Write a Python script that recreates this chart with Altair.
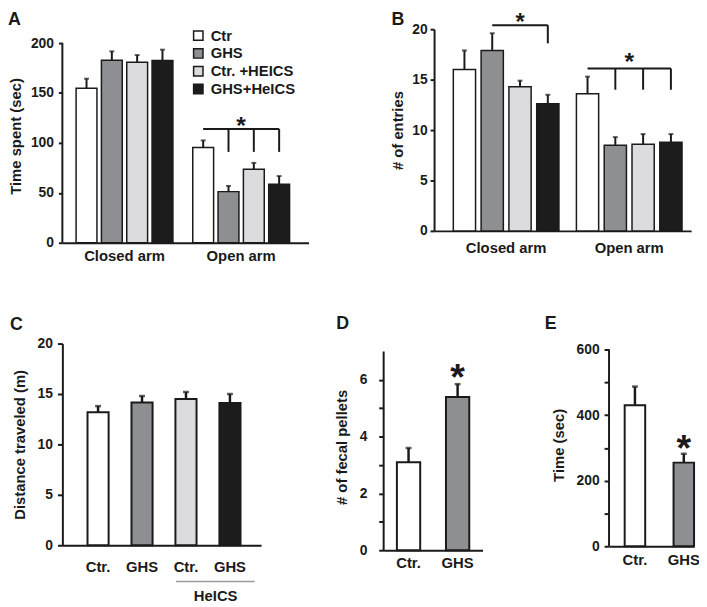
import altair as alt
import pandas as pd

FONT = "Liberation Sans"
INK = "#1a1a1a"

groups = ["Ctr", "GHS", "Ctr. +HEICS", "GHS+HeICS"]
arms = ["Closed arm", "Open arm"]
fills = ["#ffffff", "#8e8f92", "#dcdcde", "#1c1c1c"]

# Panel A: time spent (sec)
a_closed = [154.7, 182.8, 180.8, 182.5]
a_closed_sem = [9.6, 8.9, 7.2, 10.9]
a_open = [95.5, 51.2, 73.7, 58.5]
a_open_sem = [7.0, 5.7, 6.3, 8.3]
a_bracket = [114.0, 91.0]
a_star = 122.3

# Panel B: number of entries
b_closed = [16.0, 17.9, 14.3, 12.6]
b_closed_sem = [1.9, 1.7, 0.6, 0.9]
b_open = [13.6, 8.5, 8.6, 8.8]
b_open_sem = [1.7, 0.8, 1.0, 0.8]
b_closed_bracket = [20.4, 18.6]
b_closed_star = 21.2
b_open_bracket = [16.1, 14.0]
b_open_star = 17.3

# Panel C: distance traveled (m)
c_vals = [13.2, 14.15, 14.5, 14.1]
c_sem = [0.6, 0.65, 0.7, 0.9]
c_group_label = "HeICS"
c_group_line = -3.6
c_group_text = -5.0

# Panel D: fecal pellets
d_groups = ["Ctr.", "GHS"]
d_vals = [3.1, 5.4]
d_sem = [0.5, 0.45]
d_star = 6.36

# Panel E: time (sec)
e_groups = ["Ctr.", "GHS"]
e_vals = [430, 255]
e_sem = [57, 27]
e_star = 324


def arm_table(closed, closed_sem, open_, open_sem):
    rows = []
    for arm, vals, sems in ((arms[0], closed, closed_sem), (arms[1], open_, open_sem)):
        for g, v, s in zip(groups, vals, sems):
            rows.append({"arm": arm, "grp": g, "val": v, "hi": v + s})
    return pd.DataFrame(rows)


def panel_letter(text, x, y):
    return alt.Chart(pd.DataFrame({"t": [text]})).mark_text(
        fontSize=18, fontWeight="bold", font=FONT, color=INK, align="left", baseline="alphabetic"
    ).encode(text="t:N", x=alt.value(x), y=alt.value(y))


def axis_line(Y, top):
    # y-axis line drawn only up to the last labelled value
    return alt.Chart(pd.DataFrame({"lo": [0], "hi": [top]})).mark_rule(
        color=INK, strokeWidth=2).encode(x=alt.value(0), y=Y("lo"), y2="hi:Q")


def grouped_panel(table, ydom, yticks, ytitle, width, height, xpad, opad, yaxis_opts, xlab_pad,
                  legend, lines, drops, stars_center, stars_bar, letter, draw_axis_to=None):
    def X():
        return alt.X("arm:N", title=None, scale=alt.Scale(domain=arms, **xpad),
                     axis=alt.Axis(labelAngle=0, ticks=False, labelFontSize=15, labelPadding=xlab_pad))

    def XO():
        return alt.XOffset("grp:N", scale=alt.Scale(domain=groups, **opad))

    def Y(f):
        opts = dict(yaxis_opts)
        if draw_axis_to is not None:
            opts["domain"] = False
        return alt.Y(f, type="quantitative", title=ytitle, scale=alt.Scale(domain=ydom, nice=False),
                     axis=alt.Axis(values=yticks, **opts))

    base = alt.Chart(table)
    bars = base.mark_bar(stroke=INK, strokeWidth=1.5).encode(
        x=X(), xOffset=XO(), y=Y("val"),
        fill=alt.Fill("grp:N", scale=alt.Scale(domain=groups, range=fills), legend=legend))
    err = base.mark_rule(color=INK, strokeWidth=2).encode(x=X(), xOffset=XO(), y=Y("val"), y2="hi:Q")
    cap = base.mark_tick(color=INK, thickness=2, size=5).encode(x=X(), xOffset=XO(), y=Y("hi"))
    layers = [bars, err, cap]
    line = alt.Chart(pd.DataFrame(lines)).mark_line(color=INK, strokeWidth=2).encode(
        x=X(), xOffset=XO(), y=Y("y"), detail="id:N")
    drop = alt.Chart(pd.DataFrame(drops)).mark_rule(color=INK, strokeWidth=2).encode(
        x=X(), xOffset=XO(), y=Y("y"), y2="y2:Q")
    layers += [line, drop]
    if stars_center:
        layers.append(alt.Chart(pd.DataFrame(stars_center)).mark_text(
            text="*", fontSize=25, fontWeight="bold", font=FONT, color=INK, baseline="alphabetic", dy=14
        ).encode(x=X(), y=Y("y")))
    if stars_bar:
        layers.append(alt.Chart(pd.DataFrame(stars_bar)).mark_text(
            text="*", fontSize=24, fontWeight="bold", font=FONT, color=INK, baseline="alphabetic", dy=13.4
        ).encode(x=X(), xOffset=XO(), y=Y("y")))
    if draw_axis_to is not None:
        layers.append(axis_line(Y, draw_axis_to))
    layers.append(letter)
    return alt.layer(*layers).properties(width=width, height=height)


def simple_panel(cats, vals, sems, colors, ydom, yticks, ytitle, width, height, xpad, yaxis_opts,
                 xlab_pad, label_expr, star, star_cat, letter, extra=None, draw_axis_to=None):
    table = pd.DataFrame({"grp": cats, "val": vals, "hi": [v + s for v, s in zip(vals, sems)]})
    axis_x = dict(labelAngle=0, ticks=False, labelFontSize=15, labelPadding=xlab_pad)
    if label_expr:
        axis_x["labelExpr"] = label_expr

    def X():
        return alt.X("grp:N", title=None, scale=alt.Scale(domain=cats, **xpad), axis=alt.Axis(**axis_x))

    def Y(f):
        opts = dict(yaxis_opts)
        if draw_axis_to is not None:
            opts["domain"] = False
        return alt.Y(f, type="quantitative", title=ytitle, scale=alt.Scale(domain=ydom, nice=False),
                     axis=alt.Axis(values=yticks, **opts))

    base = alt.Chart(table)
    bars = base.mark_bar(stroke=INK, strokeWidth=2).encode(
        x=X(), y=Y("val"), fill=alt.Fill("grp:N", scale=alt.Scale(domain=cats, range=colors), legend=None))
    err = base.mark_rule(color=INK, strokeWidth=2.5).encode(x=X(), y=Y("val"), y2="hi:Q")
    cap = base.mark_tick(color=INK, thickness=2.5, size=6).encode(x=X(), y=Y("hi"))
    layers = [bars, err, cap]
    if star is not None:
        layers.append(alt.Chart(pd.DataFrame({"grp": [star_cat], "y": [star]})).mark_text(
            text="*", fontSize=38, fontWeight="bold", font=FONT, color=INK, baseline="alphabetic", dy=21
        ).encode(x=X(), y=Y("y")))
    if extra is not None:
        layers += extra(X, Y)
    if draw_axis_to is not None:
        layers.append(axis_line(Y, draw_axis_to))
    layers.append(letter)
    return alt.layer(*layers).properties(width=width, height=height)


legendA = alt.Legend(title=None, orient="none", legendX=130, legendY=-1, symbolType="square",
                     symbolSize=90, symbolStrokeColor=INK, symbolStrokeWidth=1.5, labelFontSize=15,
                     labelFontWeight="bold", labelFont=FONT, labelColor=INK, rowPadding=1,
                     labelOffset=5, padding=0)

# A: plot area 202 px for 0-200, extended 14 px upward to line up with B
panelA = grouped_panel(
    arm_table(a_closed, a_closed_sem, a_open, a_open_sem), [0, 200 * 216 / 202], [0, 50, 100, 150, 200],
    "Time spent (sec)", 249, 216,
    dict(paddingInner=0.17, paddingOuter=0.14, align=0.42), dict(paddingInner=0.176, paddingOuter=0),
    dict(labelPadding=5, titlePadding=7), 6, legendA,
    [{"arm": arms[1], "grp": groups[0], "y": a_bracket[0], "id": 1},
     {"arm": arms[1], "grp": groups[3], "y": a_bracket[0], "id": 1}],
    [{"arm": arms[1], "grp": g, "y": a_bracket[0], "y2": a_bracket[1]} for g in groups[1:]],
    [{"arm": arms[1], "y": a_star}], None,
    panel_letter("A", -55, -4), draw_axis_to=200)

panelB = grouped_panel(
    arm_table(b_closed, b_closed_sem, b_open, b_open_sem), [0, 20], [0, 5, 10, 15, 20],
    "# of entries", 260, 204,
    dict(paddingInner=0.142, paddingOuter=0.115, align=0.68), dict(paddingInner=0.2, paddingOuter=0),
    dict(labelPadding=3, titlePadding=6), 10, None,
    [{"arm": arms[0], "grp": groups[1], "y": b_closed_bracket[0], "id": 1},
     {"arm": arms[0], "grp": groups[3], "y": b_closed_bracket[0], "id": 1},
     {"arm": arms[1], "grp": groups[0], "y": b_open_bracket[0], "id": 2},
     {"arm": arms[1], "grp": groups[3], "y": b_open_bracket[0], "id": 2}],
    [{"arm": arms[0], "grp": groups[3], "y": b_closed_bracket[0], "y2": b_closed_bracket[1]}]
    + [{"arm": arms[1], "grp": g, "y": b_open_bracket[0], "y2": b_open_bracket[1]} for g in groups[1:]],
    [{"arm": arms[1], "y": b_open_star}],
    [{"arm": arms[0], "grp": groups[2], "y": b_closed_star}],
    panel_letter("B", -43, -4))


def heics(X, Y):
    line = alt.Chart(pd.DataFrame({"grp": [groups[2]], "g2": [groups[3]], "y": [c_group_line]})).mark_rule(
        color="#9a9a9a", strokeWidth=1.5, xOffset=-10, x2Offset=25).encode(x=X(), x2="g2:N", y=Y("y"))
    txt = alt.Chart(pd.DataFrame({"grp": [groups[2]], "y": [c_group_text],
                                  "t": [c_group_label]})).mark_text(
        fontSize=15, fontWeight="bold", font=FONT, color=INK, baseline="middle", align="center", dx=30
    ).encode(x=X(), y=Y("y"), text="t:N")
    return [line, txt]


panelC = simple_panel(
    groups, c_vals, c_sem, fills, [0, 20], [0, 5, 10, 15, 20], "Distance traveled (m)", 201, 204,
    dict(paddingInner=0.52, paddingOuter=0.52, align=0.55), dict(labelPadding=5, titlePadding=10, tickSize=5),
    15, "indexof(datum.label, 'Ctr') == 0 ? 'Ctr.' : 'GHS'", None, None, panel_letter("C", -53, -14),
    extra=heics)

# D: 201 px for 0-7, extended 8 px upward to line up with C
panelD = simple_panel(
    d_groups, d_vals, d_sem, fills[:2], [0, 7 * 209 / 201], [0, 1, 2, 3, 4, 5, 6], "# of fecal pellets",
    100, 209,
    dict(paddingInner=0.525, paddingOuter=0.27, align=0.5),
    dict(labelPadding=12, titlePadding=10, tickSize=5, labelExpr="datum.value % 2 == 0 ? datum.label : ''"),
    6, None, d_star, "GHS", panel_letter("D", -48, -15), draw_axis_to=7)

# E: 199 px for 0-600, extended 6 px upward to line up with C
panelE = simple_panel(
    e_groups, e_vals, e_sem, fills[:2], [0, 600 * 205 / 199], [0, 100, 200, 300, 400, 500, 600],
    "Time (sec)", 86, 205,
    dict(paddingInner=0.58, paddingOuter=0.16, align=1.0),
    dict(labelPadding=5, titlePadding=10, tickSize=5, labelExpr="datum.value % 200 == 0 ? datum.label : ''"),
    6, None, e_star, "GHS", panel_letter("E", -65, -15), draw_axis_to=600)

top = alt.hconcat(panelA, panelB, spacing=83).resolve_scale(
    fill="independent", xOffset="independent", x="independent", y="independent")
de = alt.hconcat(panelD, panelE, spacing=63).resolve_scale(
    fill="independent", x="independent", y="independent")
bottom = alt.hconcat(panelC, de, spacing=74).resolve_scale(
    fill="independent", x="independent", y="independent")

chart = alt.vconcat(top, bottom, spacing=52).resolve_scale(
    fill="independent", xOffset="independent", x="independent", y="independent"
).properties(
    padding={"left": 0, "top": 0, "right": -1, "bottom": 0}, background="white"
).configure(font=FONT).configure_view(stroke=None).configure_axis(
    domainColor=INK, domainWidth=2, tickColor=INK, tickWidth=2, tickSize=4, labelColor=INK,
    titleColor=INK, labelFontWeight="bold", titleFontWeight="bold", labelFontSize=14,
    titleFontSize=15, grid=False, labelFont=FONT, titleFont=FONT
)

chart.save("out.html", embed_options={"renderer": "svg", "actions": False})
